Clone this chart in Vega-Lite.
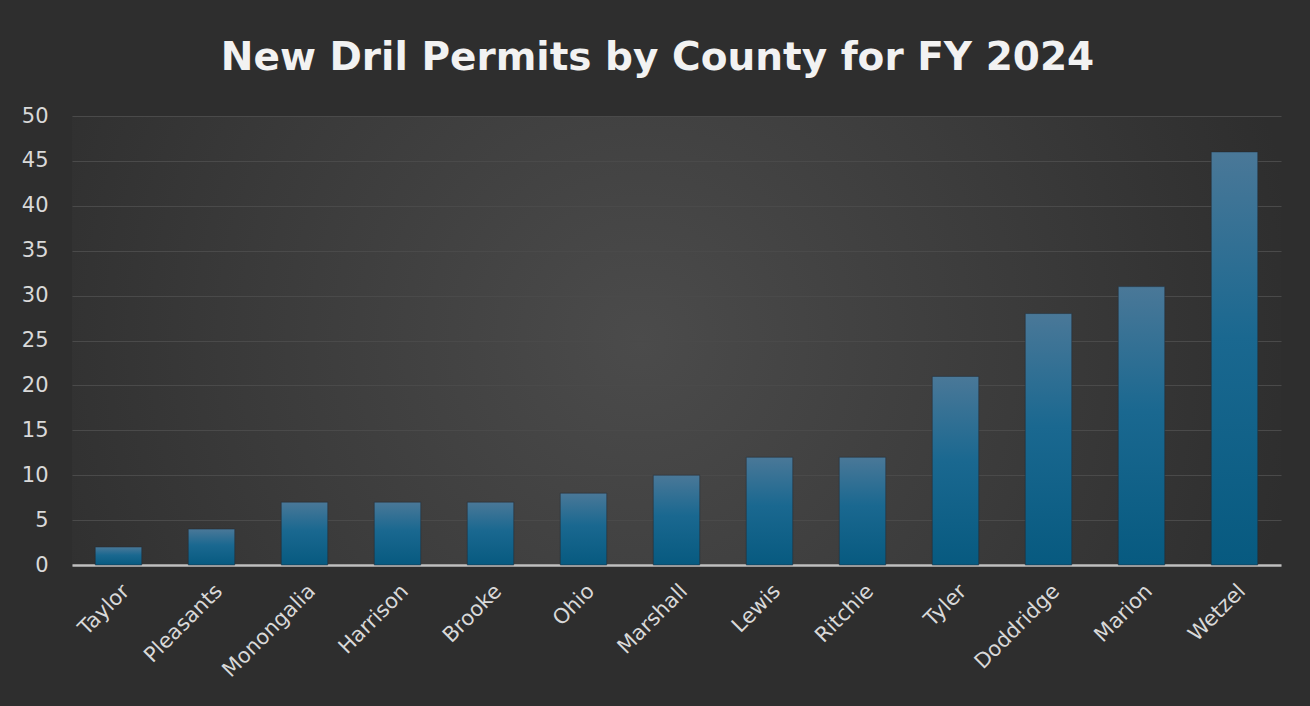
{
  "$schema": "https://vega.github.io/schema/vega-lite/v6.json",
  "width": 1209,
  "height": 449,
  "autosize": {"type": "none"},
  "padding": {"left": 72, "top": 116, "right": 29, "bottom": 141},
  "background": "#2e2e2e",
  "title": {
    "text": "New Dril Permits by County for FY 2024",
    "font": "DejaVu Sans",
    "fontSize": 39,
    "fontWeight": "bold",
    "color": "#f2f2f2",
    "anchor": "middle",
    "offset": 27,
    "dx": -19
  },
  "data": {
    "values": [
      {"county": "Taylor", "permits": 2},
      {"county": "Pleasants", "permits": 4},
      {"county": "Monongalia", "permits": 7},
      {"county": "Harrison", "permits": 7},
      {"county": "Brooke", "permits": 7},
      {"county": "Ohio", "permits": 8},
      {"county": "Marshall", "permits": 10},
      {"county": "Lewis", "permits": 12},
      {"county": "Ritchie", "permits": 12},
      {"county": "Tyler", "permits": 21},
      {"county": "Doddridge", "permits": 28},
      {"county": "Marion", "permits": 31},
      {"county": "Wetzel", "permits": 46}
    ]
  },
  "mark": {
    "type": "bar",
    "color": {
      "gradient": "linear",
      "x1": 0, "y1": 0, "x2": 0, "y2": 1,
      "stops": [
        {"offset": 0, "color": "#4a7898"},
        {"offset": 0.45, "color": "#1a6890"},
        {"offset": 1, "color": "#075a80"}
      ]
    },
    "stroke": "#1f2a33",
    "strokeOpacity": 0.5,
    "strokeWidth": 1
  },
  "encoding": {
    "x": {
      "field": "county",
      "type": "nominal",
      "sort": null,
      "title": null,
      "scale": {"paddingInner": 0.5, "paddingOuter": 0.25},
      "axis": {
        "labelAngle": -45,
        "labelFont": "DejaVu Sans",
        "labelFontSize": 21,
        "labelColor": "#d9d9d9",
        "labelPadding": 15,
        "ticks": false,
        "domainColor": "#bfbfbf",
        "domainWidth": 2.5,
        "grid": false
      }
    },
    "y": {
      "field": "permits",
      "type": "quantitative",
      "title": null,
      "scale": {"domain": [0, 50]},
      "axis": {
        "values": [0, 5, 10, 15, 20, 25, 30, 35, 40, 45, 50],
        "labelFont": "DejaVu Sans",
        "labelFontSize": 21,
        "labelColor": "#d9d9d9",
        "labelPadding": 24,
        "ticks": false,
        "domain": false,
        "gridColor": "#4a4a4a",
        "gridWidth": 1
      }
    }
  },
  "config": {
    "view": {
      "stroke": null,
      "fill": {
        "gradient": "radial",
        "x1": 0.47, "y1": 0.5, "r1": 0,
        "x2": 0.47, "y2": 0.5, "r2": 0.55,
        "stops": [
          {"offset": 0, "color": "#4b4b4b"},
          {"offset": 0.6, "color": "#3a3a3a"},
          {"offset": 1, "color": "#2e2e2e"}
        ]
      }
    }
  }
}
